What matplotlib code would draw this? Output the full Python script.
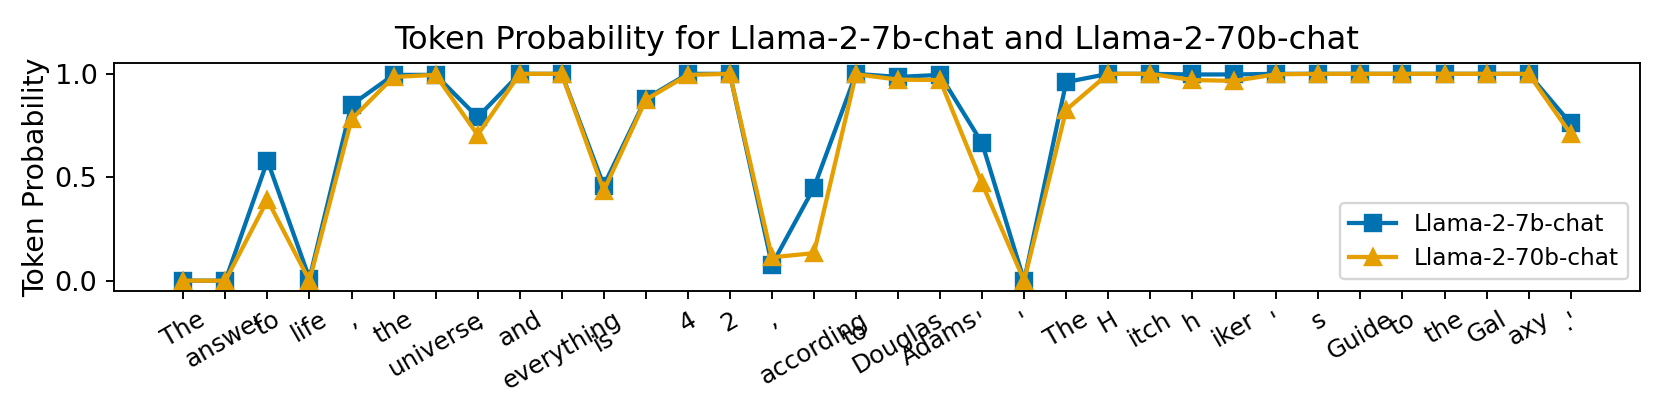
import matplotlib
matplotlib.use("Agg")
import matplotlib.pyplot as plt
from matplotlib.transforms import ScaledTranslation

tokens = ["The", "answer", "to", "life", ",", "the", "universe", ",", "and",
          "everything", "is", "", "4", "2", ",", "according", "to", "Douglas",
          "Adams", "'", "'", "The", "H", "itch", "h", "iker", "'", "s", "Guide",
          "to", "the", "Gal", "axy", ".'"]

prob_7b = [0.0, 0.0, 0.58, 0.01, 0.85, 0.995, 0.995, 0.79, 1.0, 1.0,
           0.46, 0.88, 1.0, 1.0, 0.077, 0.45, 1.0, 0.985, 0.995, 0.665,
           0.0, 0.96, 1.0, 1.0, 0.997, 0.997, 1.0, 1.0, 1.0, 1.0,
           1.0, 1.0, 1.0, 0.76]
prob_70b = [0.0, 0.0, 0.39, 0.0, 0.78, 0.985, 0.995, 0.705, 1.0, 1.0,
            0.435, 0.875, 0.995, 1.0, 0.113, 0.133, 0.998, 0.972, 0.97, 0.47,
            0.0, 0.826, 1.0, 1.0, 0.97, 0.966, 0.998, 1.0, 1.0, 1.0,
            1.0, 1.0, 1.0, 0.71]

labels = ["Llama-2-7b-chat", "Llama-2-70b-chat"]
colors = ["#0072B2", "#E69F00"]

W, H = 1661, 415
dpi = 170
fig = plt.figure(figsize=(W / dpi, H / dpi), dpi=dpi)
left, right, top, bottom = 114, 1640, 63.5, 291
ax = fig.add_axes([left / W, (H - bottom) / H, (right - left) / W, (bottom - top) / H])

x = list(range(len(tokens)))
ax.plot(x, prob_7b, marker="s", color=colors[0], label=labels[0], markersize=7, linewidth=1.8)
ax.plot(x, prob_70b, marker="^", color=colors[1], label=labels[1], markersize=7, linewidth=1.8)

ax.set_xticks(x)
ax.set_xticklabels(tokens, rotation=30, fontsize=10.4)
ax.set_yticks([0.0, 0.5, 1.0])
ax.tick_params(axis="y", labelsize=11.5)
ax.set_ylabel("Token Probability", fontsize=12)
ax.yaxis.set_label_coords((50 - left) / (right - left), 0.5)
ax.set_title("Token Probability for Llama-2-7b-chat and Llama-2-70b-chat", fontsize=13.6)
ax.legend(loc="lower right", fontsize=9.8)

# a couple of labels sit slightly lower in the reference
shifts = {10: 18, 16: 11}
for i, lab in enumerate(ax.get_xticklabels()):
    if i in shifts:
        off = ScaledTranslation(0, -shifts[i] / dpi, fig.dpi_scale_trans)
        lab.set_transform(lab.get_transform() + off)

fig.savefig("out.png", dpi=dpi)
